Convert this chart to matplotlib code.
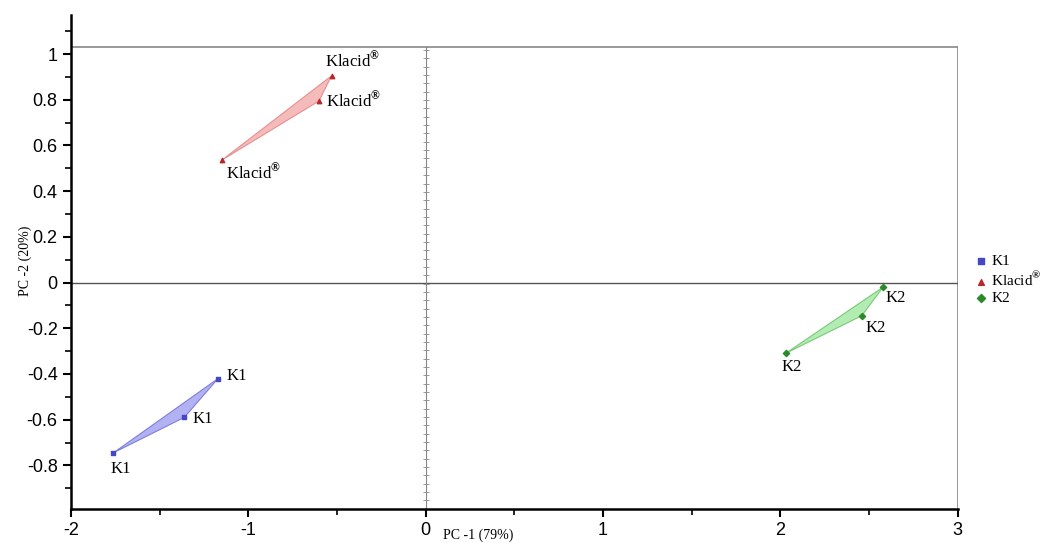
import numpy as np
import matplotlib
matplotlib.use("Agg")
from matplotlib import pyplot as plt

plt.rcParams["axes.unicode_minus"] = False
plt.rcParams["mathtext.fontset"] = "custom"
plt.rcParams["mathtext.rm"] = "Liberation Serif"
plt.rcParams["mathtext.bf"] = "Liberation Serif:bold"

# scores
groups = ["K1", "Klacid$^{\\mathbf{®}}$", "K2"]
k1_x = [-1.17, -1.36, -1.76]
k1_y = [-0.42, -0.59, -0.745]
klacid_x = [-0.53, -0.60, -1.15]
klacid_y = [0.905, 0.795, 0.535]
k2_x = [2.58, 2.46, 2.03]
k2_y = [-0.02, -0.145, -0.31]

xs = [k1_x, klacid_x, k2_x]
ys = [k1_y, klacid_y, k2_y]
marks = ["s", "^", "D"]
pt_col = ["#4646c8", "#b82828", "#2a8a2a"]
fill_col = ["#9f9ff0", "#f3a9a9", "#9fe89f"]
edge_col = ["#6a6ad8", "#e08080", "#60c060"]
# label offsets in points (dx, dy, ha, va) per point
offs = [[(6, 2, "left", "center"), (6, -1, "left", "center"), (-2, -6, "left", "top")],
        [(-5, 3, "left", "bottom"), (5, 0, "left", "center"), (3, -2, "left", "top")],
        [(2, -2, "left", "top"), (3, -3, "left", "top"), (-3, -4, "left", "top")]]

fig = plt.figure(figsize=(10.42, 5.43), dpi=100)
ax = fig.add_axes([0.068, 0.063, 0.851, 0.909])

for i in range(3):
    ax.fill(xs[i], ys[i], facecolor=fill_col[i], edgecolor=edge_col[i], lw=0.8, alpha=0.8, zorder=2)
    ax.scatter(xs[i], ys[i], marker=marks[i], s=10, color=pt_col[i], zorder=3, label=groups[i])
    for j in range(3):
        dx, dy, ha, va = offs[i][j]
        ax.annotate(groups[i], (xs[i][j], ys[i][j]), xytext=(dx, dy), textcoords="offset points",
                    ha=ha, va=va, fontsize=12, family="Liberation Serif", zorder=4)

# box, zero lines
ax.set_xlim(-2, 3)
ax.set_ylim(-0.99, 1.17)
ax.plot([-2, 3], [1.03, 1.03], color="#888888", lw=1.2, zorder=1)
ax.plot([3, 3], [-0.99, 1.03], color="#888888", lw=1.2, zorder=1)
ax.axhline(0, color="#555555", lw=1.0, zorder=1)
ax.plot([0, 0], [-0.99, 1.03], color="#888888", lw=0.8, zorder=1)
tk = np.arange(-0.99, 1.03, 0.0365)
ax.plot(np.zeros(len(tk)), tk, ls="none", marker="_", ms=5, mew=0.6, color="#888888", zorder=1)

ax.spines["top"].set_visible(False)
ax.spines["right"].set_visible(False)
ax.spines["left"].set_linewidth(1.8)
ax.spines["bottom"].set_linewidth(1.8)

ax.set_xticks(np.arange(-2, 3.01, 1))
ax.set_xticks(np.arange(-2, 3.01, 0.5), minor=True)
yt = np.round(np.arange(-0.8, 1.01, 0.2), 1)
ax.set_yticks(yt)
ax.set_yticks(np.arange(-0.9, 1.11, 0.1), minor=True)
ax.set_yticklabels(["%g" % (v + 0.0) for v in yt])
ax.tick_params(which="major", length=6, width=1.5, labelsize=13)
ax.tick_params(which="minor", length=4, width=1.2)
for lab in ax.get_xticklabels() + ax.get_yticklabels():
    lab.set_family("Liberation Sans")

fig.text(0.425, 0.008, "PC -1 (79%)", fontsize=10, family="Liberation Serif")
fig.text(0.018, 0.52, "PC -2 (20%)", fontsize=10, family="Liberation Serif",
         rotation=90, va="center")

leg = ax.legend(loc="center left", bbox_to_anchor=(1.0, 0.465), frameon=False,
                handletextpad=0.1, labelspacing=0.15, handlelength=1.2, markerscale=1.3,
                prop={"family": "Liberation Serif", "size": 11})

fig.savefig("out.png", dpi=100)
